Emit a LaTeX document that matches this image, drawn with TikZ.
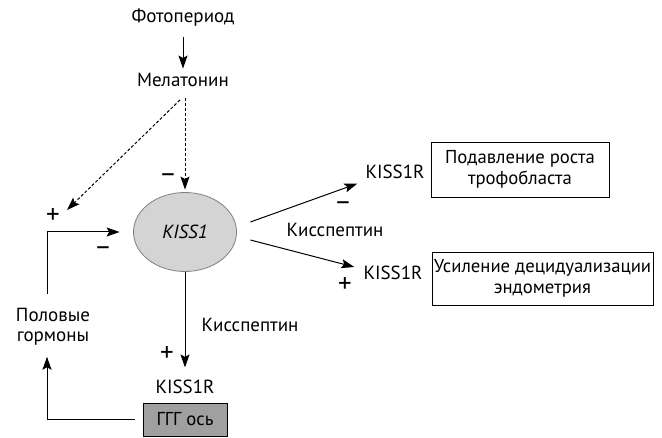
\documentclass[tikz,border=0pt]{standalone}
\usepackage{fontspec}
\setmainfont{PT Sans}
\usetikzlibrary{arrows.meta,shapes.geometric}
\definecolor{ellfill}{HTML}{D4D4D4}
\definecolor{ellline}{HTML}{808080}
\definecolor{boxfill}{HTML}{A0A0A0}
\begin{document}
\begin{tikzpicture}[x=1pt,y=-1pt,
  lbl/.style={font=\fontsize{19}{20}\selectfont, inner sep=0pt, align=center},
  sign/.style={font=\fontsize{27}{27}\selectfont, inner sep=0pt},
  arr/.style={line width=1pt, -{Stealth[length=13pt,width=9pt,inset=2.5pt]}},
  darr/.style={arr, dash pattern=on 3pt off 2pt},
  ln/.style={line width=1pt},
  tbox/.style={draw, line width=0.8pt, inner sep=0pt, align=center, font=\fontsize{18.7}{21}\selectfont}]
\useasboundingbox (0,0) rectangle (662,438);
% nodes
\node[lbl] (foto) at (183,18) {Фотопериод};
\node[lbl] (mel) at (183,80) {Мелатонин};
\node[ellipse, draw=ellline, fill=ellfill, line width=0.8pt, minimum width=103pt, minimum height=79pt, inner sep=0pt,
      font=\fontsize{19}{20}\selectfont\itshape] (kiss) at (185,232) {KISS1};
\node[lbl] (k1) at (395,172) {KISS1R};
\node[lbl] (k2) at (393,273) {KISS1R};
\node[lbl] (k3) at (185,387) {KISS1R};
\node[tbox, minimum width=178pt, minimum height=55pt] (b1) at (520,169.5) {Подавление роста\\трофобласта};
\node[tbox, minimum width=221pt, minimum height=53pt] (b2) at (542.5,278.5) {Усиление децидуализации\\эндометрия};
\node[tbox, fill=boxfill, minimum width=84pt, minimum height=33pt] (ggg) at (185,419.5) {ГГГ ось};
\node[lbl] (hor) at (53,327) {Половые\\гормоны};
\node[lbl] (kp1) at (250,325) {Кисспептин};
\node[lbl] (kp2) at (335,230) {Кисспептин};
% signs
\node[sign] (m1) at (168,178) {–};
\node[sign] (p1) at (53,216) {+};
\node[sign] (m2) at (103,251) {–};
\node[sign] (p2) at (167,354) {+};
\node[sign] (m3) at (343,206) {–};
\node[sign] (p3) at (345,285) {+};
\coordinate (dtip) at (67,210);
% connectors
\draw[arr] ([yshift=-10pt]foto.south) -- ([yshift=4.5pt]mel.north);
\draw[darr] ([xshift=2pt,yshift=-11pt]mel.south) -- ([yshift=2.5pt]kiss.north);
\draw[darr] ([xshift=-3pt,yshift=-13pt]mel.south) -- (dtip);
\draw[arr] ([xshift=-6pt,yshift=14pt]hor.north) |- ([xshift=-13.5pt]kiss.west);
\draw[arr] ([xshift=-8pt]ggg.west) -| ([xshift=-6pt,yshift=-11pt]hor.south);
\draw[arr] (kiss.south) -- ([yshift=12.5pt]k3.north);
\draw[arr] ([xshift=13.5pt,yshift=10pt]kiss.east) -- ([xshift=-8pt,yshift=-4.5pt]k1.south west);
\draw[arr] ([xshift=13.5pt,yshift=-8pt]kiss.east) -- ([xshift=-9pt,yshift=6pt]k2.west);
\end{tikzpicture}
\end{document}
